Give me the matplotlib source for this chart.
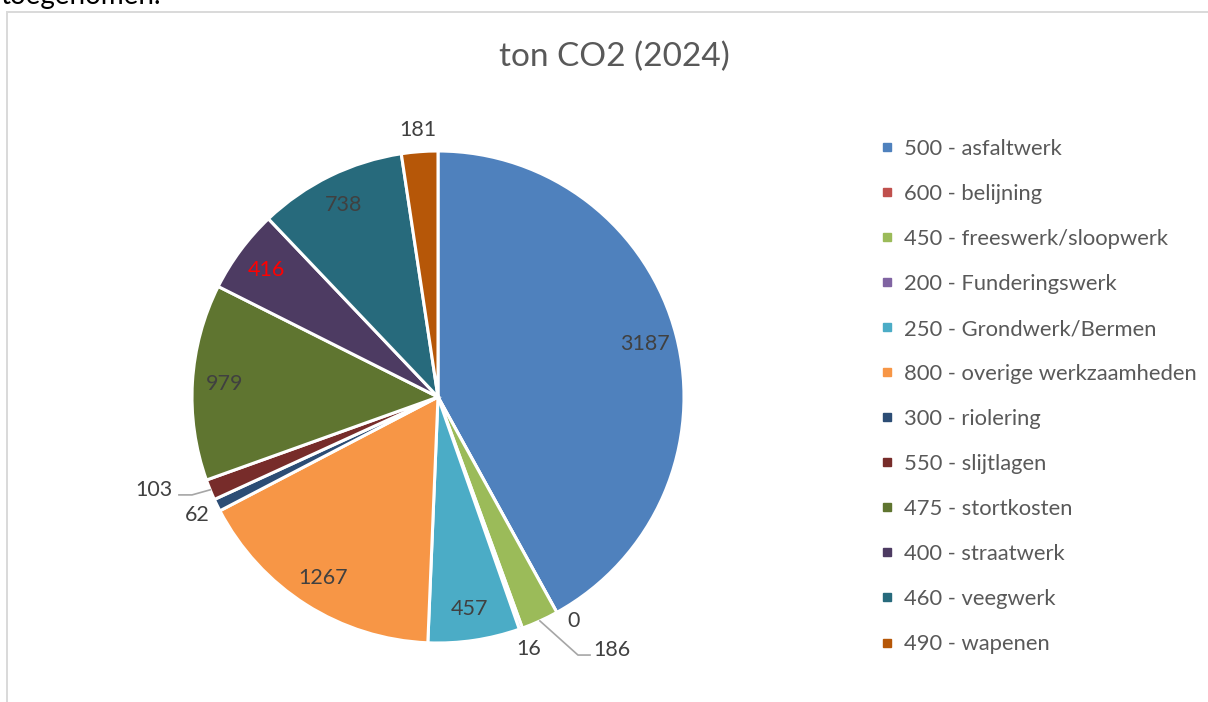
import matplotlib
matplotlib.use("Agg")
import matplotlib.pyplot as plt
from matplotlib.lines import Line2D
from matplotlib.patches import Rectangle
import numpy as np

plt.rcParams['font.family'] = ['Lato', 'DejaVu Sans']

# data
categories = ["500 - asfaltwerk", "600 - belijning", "450 - freeswerk/sloopwerk",
              "200 - Funderingswerk", "250 - Grondwerk/Bermen", "800 - overige werkzaamheden",
              "300 - riolering", "550 - slijtlagen", "475 - stortkosten",
              "400 - straatwerk", "460 - veegwerk", "490 - wapenen"]
values = [3187, 0, 186, 16, 457, 1267, 62, 103, 979, 416, 738, 181]
colors = ["#4F81BD", "#C0504D", "#9BBB59", "#8064A2", "#4BACC6", "#F79646",
          "#2C4D75", "#772C2A", "#5F7530", "#4D3B62", "#276A7C", "#B65708"]
title = "ton CO2 (2024)"

W, H = 1208, 702
fig = plt.figure(figsize=(W / 100, H / 100), dpi=100)

# chart frame, partly cut off like the screenshot
fig.patches.append(Rectangle((7 / W, -0.1), 1.2, 1.1 - 12 / H, transform=fig.transFigure,
                             fill=False, edgecolor="#D9D9D9", linewidth=1.4))
# sentence above the chart, mostly outside the screenshot
fig.text(0 / W, 1 - 4 / H, "toegenomen.", fontsize=20, color="black", va="baseline", ha="left")

# pie axes: centre (438,397) px, radius 246 px
R = 246
cx, cy = 438, 397
half = 1.4 * R
ax = fig.add_axes([(cx - half) / W, (H - cy - half) / H, 2 * half / W, 2 * half / H])
wedges, _ = ax.pie(values, colors=colors, startangle=90, counterclock=False, radius=1,
                   wedgeprops=dict(edgecolor="white", linewidth=2.2))
ax.set_xlim(-1.4, 1.4)
ax.set_ylim(-1.4, 1.4)
ax.set_aspect("equal")
ax.axis("off")

lab_col = "#404040"
fs = 15.5
total = float(sum(values))
start = 90.0
for i, v in enumerate(values):
    span = 360.0 * v / total
    mid = np.radians(start - span / 2)
    start -= span
    txt = str(v)
    if v >= 400:
        r = 0.87
        col = "red" if v == 416 else lab_col
        ax.text(r * np.cos(mid), r * np.sin(mid), txt, ha="center", va="center",
                fontsize=fs, color=col)
    elif v == 186:
        p0 = (np.cos(mid), np.sin(mid))
        ax.plot([p0[0], 0.569, 0.618], [p0[1], -1.049, -1.049], color="#A6A6A6", lw=1.2)
        ax.text(0.63, -1.03, txt, ha="left", va="center", fontsize=fs, color=lab_col)
    elif v == 103:
        p0 = (np.cos(mid), np.sin(mid))
        ax.plot([p0[0], -1.0, -1.053], [p0[1], -0.398, -0.398], color="#A6A6A6", lw=1.2)
        ax.text(-1.08, -0.378, txt, ha="right", va="center", fontsize=fs, color=lab_col)
    elif v == 0:
        a = mid + np.radians(2.2)
        ax.text(1.065 * np.cos(a), 1.065 * np.sin(a), txt, ha="center", va="center",
                fontsize=fs, color=lab_col)
    else:
        r = 1.09
        ax.text(r * np.cos(mid), r * np.sin(mid), txt, ha="center", va="center",
                fontsize=fs, color=lab_col)

fig.text(614 / W, 1 - 57 / H, title, ha="center", va="center", fontsize=24, color="#595959")

handles = [Line2D([], [], marker="s", linestyle="none", markersize=6,
                  markerfacecolor=c, markeredgecolor=c) for c in colors]
fig.legend(handles, categories, loc="upper left", bbox_to_anchor=(878 / W, 1 - 139 / H),
           frameon=False, fontsize=15.8, labelspacing=1.14, handlelength=0.8,
           handletextpad=0.4, borderpad=0, borderaxespad=0, labelcolor="#595959")

fig.savefig("out.png", dpi=100)
